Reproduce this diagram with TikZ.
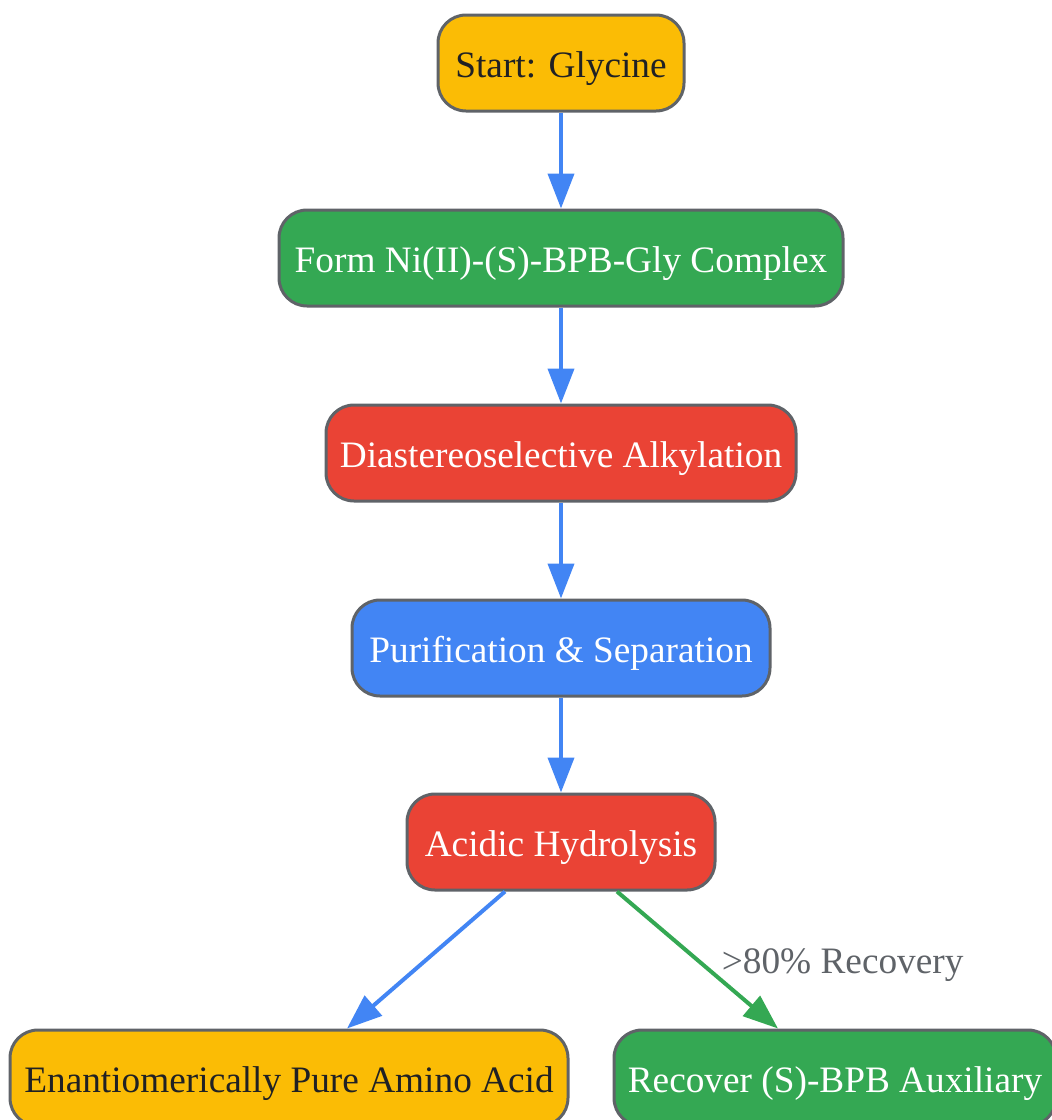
\documentclass[tikz,border=0pt]{standalone}
\usepackage{fontspec}
\setmainfont{Liberation Serif}
\usepackage{xcolor}
\usepackage{tikz}
\usetikzlibrary{calc}
\usetikzlibrary{arrows.meta}

\definecolor{gyellow}{HTML}{FBBC05}
\definecolor{ggreen}{HTML}{34A853}
\definecolor{gred}{HTML}{EA4335}
\definecolor{gblue}{HTML}{4285F4}
\definecolor{gborder}{HTML}{5F6368}
\definecolor{gtext}{HTML}{202124}

\begin{document}
\begin{tikzpicture}[x=1pt,y=-1pt,
    flowbox/.style={draw=gborder, line width=3pt, rounded corners=28pt,
      minimum height=96pt, inner sep=0pt, text=white,
      text height=34pt, text depth=6pt,
      font=\fontsize{37.3}{44}\selectfont},
    flowarrow/.style={line width=4pt, -{Triangle[length=35pt,width=26pt]}}]
                        \useasboundingbox (0,0) rectangle (1052,1120);

                        % Marking the steps
                        \node [flowbox, fill=gyellow, text=gtext, minimum width=246pt] (start) at (561,63) {Start: Glycine};%
                        \node [flowbox, fill=ggreen, minimum width=564pt] (complex) at (561,258) {Form Ni(II)-(S)-BPB-Gly Complex};%
                        \node [flowbox, fill=gred, minimum width=470pt] (alkyl) at (561,453) {Diastereoselective Alkylation};%
                        \node [flowbox, fill=gblue, minimum width=418pt] (purify) at (561,648) {Purification \& Separation};%
                        \node [flowbox, fill=gred, minimum width=308pt] (hydro) at (561,842) {Acidic Hydrolysis};%
                        \node [flowbox, fill=gyellow, text=gtext, minimum width=558pt] (amino) at (289,1078) {Enantiomerically Pure Amino Acid};%
                        \node [flowbox, fill=ggreen, minimum width=442pt] (recover) at (835,1078) {Recover (S)-BPB Auxiliary};%

                        % Drawing arrows down the chain
                        \draw [flowarrow, draw=gblue, fill=gblue] (start) -- (complex);%
                        \draw [flowarrow, draw=gblue, fill=gblue] (complex) -- (alkyl);%
                        \draw [flowarrow, draw=gblue, fill=gblue] (alkyl) -- (purify);%
                        \draw [flowarrow, draw=gblue, fill=gblue] (purify) -- (hydro);%

                        % Drawing the two branches
                        \draw [flowarrow, draw=gblue, fill=gblue] ($(hydro.south)+(-56,0)$) -- ($(amino.north)+(58,0)$);%
                        \draw [flowarrow, draw=ggreen, fill=ggreen] ($(hydro.south)+(56,0)$) -- ($(recover.north)+(-57,0)$)
                          node [pos=0.5, anchor=west, xshift=19pt, yshift=-5pt, text=gborder, font=\fontsize{37.3}{44}\selectfont] (ratelabel) {>80\% Recovery};%
                        \end{tikzpicture}
\end{document}
